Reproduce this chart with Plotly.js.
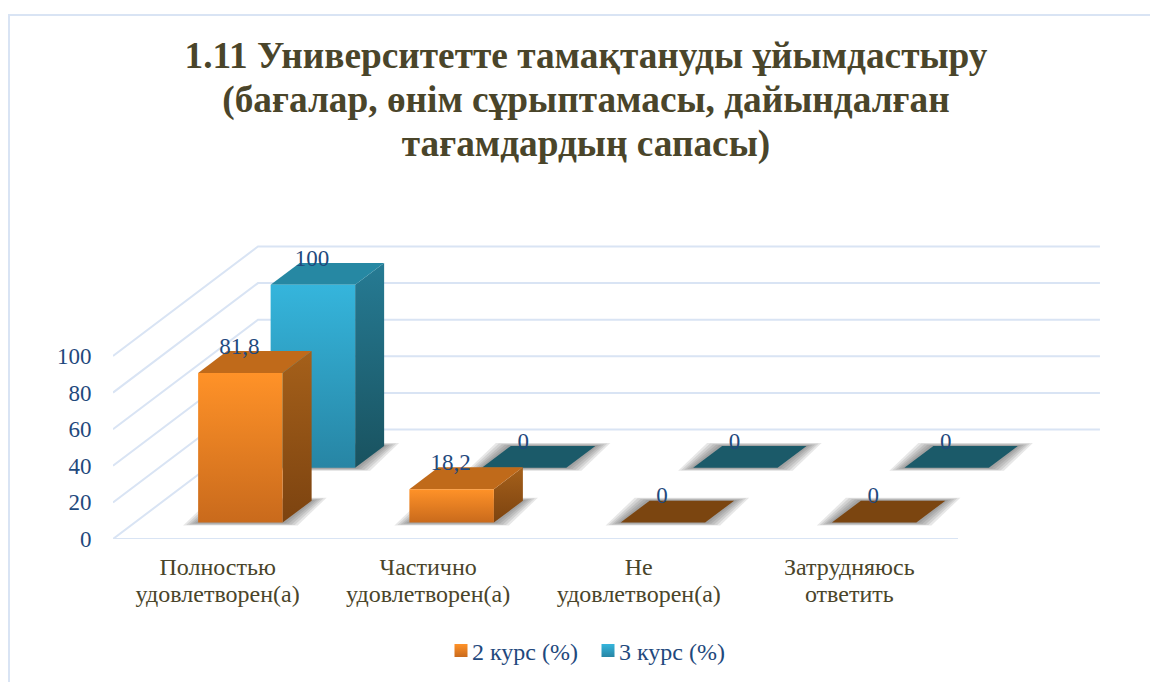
<!DOCTYPE html>
<html>
<head>
<meta charset="utf-8">
<script src="https://cdn.plot.ly/plotly-3.0.1.min.js"></script>
<style>html,body{margin:0;padding:0;background:#fff}</style>
</head>
<body>
<div id="chart" style="width:1150px;height:682px"></div>
<script>
const categories = ['Полностью<br>удовлетворен(а)', 'Частично<br>удовлетворен(а)', 'Не<br>удовлетворен(а)', 'Затрудняюсь<br>ответить'];
const course2 = [81.8, 18.2, 0, 0];
const course3 = [100, 0, 0, 0];
const valueTicks = [0, 20, 40, 60, 80, 100];
const titleText = '1.11 Университетте тамақтануды ұйымдастыру<br>(бағалар, өнім сұрыптамасы, дайындалған<br>тағамдардың сапасы)';

const SERIF = '"Liberation Serif","Times New Roman",serif';
const BLUE = '#1f497d', OLIVE = '#4a452a', GRID = '#d9e4f4';
const PX_X = 211.25, PX_Y = 1.83;          // pixels per category / per value unit
const DX = 72.5 / PX_X, DY = 54.75 / PX_Y; // oblique shift per series row of depth

const px = (c, d) => c + d * DX;
const py = (v, d) => v + d * DY;
function poly(pts) {
  const x = pts.map(p => px(p[0], p[2])), y = pts.map(p => py(p[1], p[2]));
  x.push(x[0]); y.push(y[0]);
  return {x, y};
}
function face(pts, fill, grad) {
  const t = Object.assign(poly(pts), {type:'scatter', mode:'lines', fill:'toself', line:{width:0},
    hoverinfo:'skip', showlegend:false});
  if (grad) t.fillgradient = {type:'vertical', colorscale:[[0, grad[0]], [1, grad[1]]]};
  else t.fillcolor = fill;
  return t;
}

const traces = [];
// walls and floor gridlines
valueTicks.forEach(v => traces.push({type:'scatter', mode:'lines', x:[0, px(0,2), 4.672], y:[v, py(v,2), py(v,2)],
  line:{color:GRID, width:2}, hoverinfo:'skip', showlegend:false}));
traces.push({type:'scatter', mode:'lines', x:[0, 4], y:[0, 0], line:{color:GRID, width:2}, hoverinfo:'skip', showlegend:false});

const series = [
  {name:'3 курс (%)', row:1, values:course3, front:['#2785a4','#35b5dc'], side:['#19525f','#267b94'], top:'#2688a3', flat:'#1b5a69'},
  {name:'2 курс (%)', row:0, values:course2, front:['#c96a1c','#ff9228'], side:['#7c4310','#a5601a'], top:'#c06a1a', flat:'#7b4510'}
];
// floor shadows
series.forEach(s => s.values.forEach((v, i) => {
  const c0 = i + .3, c1 = i + .7, d0 = s.row + .3, d1 = s.row + .7;
  [1, .8, .6, .4, .2].forEach(k => {
    const ex = 15 * k / PX_X, ey = 3 * k / PX_Y;
    traces.push(face([[c0-ex,-ey,d0],[c1+ex,-ey,d0],[c1+ex,ey,d1],[c0-ex,ey,d1]], 'rgba(70,70,70,0.13)'));
  });
}));
// bars: back row first
series.forEach(s => s.values.forEach((v, i) => {
  const c0 = i + .3, c1 = i + .7, d0 = s.row + .3, d1 = s.row + .7;
  if (v > 0) {
    traces.push(face([[c1,0,d0],[c1,0,d1],[c1,v,d1],[c1,v,d0]], null, s.side));
    traces.push(face([[c0,v,d0],[c1,v,d0],[c1,v,d1],[c0,v,d1]], s.top));
    traces.push(face([[c0,0,d0],[c1,0,d0],[c1,v,d0],[c0,v,d0]], null, s.front));
  } else {
    traces.push(face([[c0,0,d0],[c1,0,d0],[c1,0,d1],[c0,0,d1]], s.flat));
  }
}));
// data labels
const LABEL_LIFT = 25 / PX_Y;
series.forEach(s => traces.push({type:'scatter', mode:'text',
  x:s.values.map((v, i) => px(i + .5, s.row + .3) - 1 / PX_X),
  y:s.values.map(v => py(v, s.row + .3) + LABEL_LIFT),
  text:s.values.map(v => String(v).replace('.', ',')),
  textposition:'middle center', textfont:{family:SERIF, size:23, color:BLUE},
  hoverinfo:'skip', showlegend:false, cliponaxis:false}));
// legend entries
[series[1], series[0]].forEach(s => traces.push({type:'scatter', mode:'markers', x:[null], y:[null], name:s.name,
  marker:{symbol:'square', size:13, color:s.front[1], line:{width:0}, gradient:{type:'vertical', color:s.front[0]}}}));

const layout = {
  width:1150, height:682, paper_bgcolor:'#fff', plot_bgcolor:'rgba(0,0,0,0)',
  margin:{l:113, r:40, t:200, b:143},
  font:{family:SERIF, color:BLUE},
  title:{text:titleText, font:{family:SERIF, size:37.3, color:OLIVE, weight:700}, x:586/1150, xanchor:'center',
    y:1-68/682, yanchor:'middle'},
  xaxis:{range:[0, 997/PX_X], tickmode:'array', tickvals:categories.map((c, i) => i + .5 - (1 + i * .7) / PX_X), ticktext:categories,
    showgrid:false, zeroline:false, showline:false, ticks:'outside', ticklen:6, tickcolor:'rgba(0,0,0,0)',
    tickangle:0, tickfont:{family:SERIF, size:24, color:OLIVE}, fixedrange:true},
  yaxis:{range:[0, 339/PX_Y], tickmode:'array', tickvals:valueTicks, ticktext:valueTicks.map(String),
    showgrid:false, zeroline:false, showline:false, ticks:'outside', ticklen:16, tickcolor:'rgba(0,0,0,0)',
    tickfont:{family:SERIF, size:23, color:BLUE}, fixedrange:true},
  legend:{orientation:'h', xref:'container', yref:'container', x:432/1150, y:1-651/682, xanchor:'left', yanchor:'middle',
    font:{family:SERIF, size:24, color:BLUE}, itemsizing:'trace', bgcolor:'rgba(0,0,0,0)',
    entrywidth:102, entrywidthmode:'pixels'},
  shapes:[{type:'path', xref:'paper', yref:'paper', line:{color:GRID, width:2},
    path:`M ${(9-113)/997} ${(682-539)/-339} L ${(9-113)/997} ${(539-15)/339} L ${(1150-113)/997} ${(539-15)/339}`}],
  showlegend:true, hovermode:false
};
Plotly.newPlot('chart', traces, layout, {displayModeBar:false, staticPlot:true}).then(gd => {
  // tighter line pitch on multi-line text, swatch closer to its legend label
  const tighten = (sel, pitch) => gd.querySelectorAll(sel).forEach(t => {
    t.querySelectorAll('tspan.line').forEach((l, i) => l.setAttribute('dy', (i * pitch) + 'em'));
  });
  tighten('.gtitle', 1.18);
  tighten('.xtick text', 1.12);
  gd.querySelectorAll('.legend .legendsymbols').forEach(g => g.setAttribute('transform', 'translate(9,0)'));
});
</script>
</body>
</html>
